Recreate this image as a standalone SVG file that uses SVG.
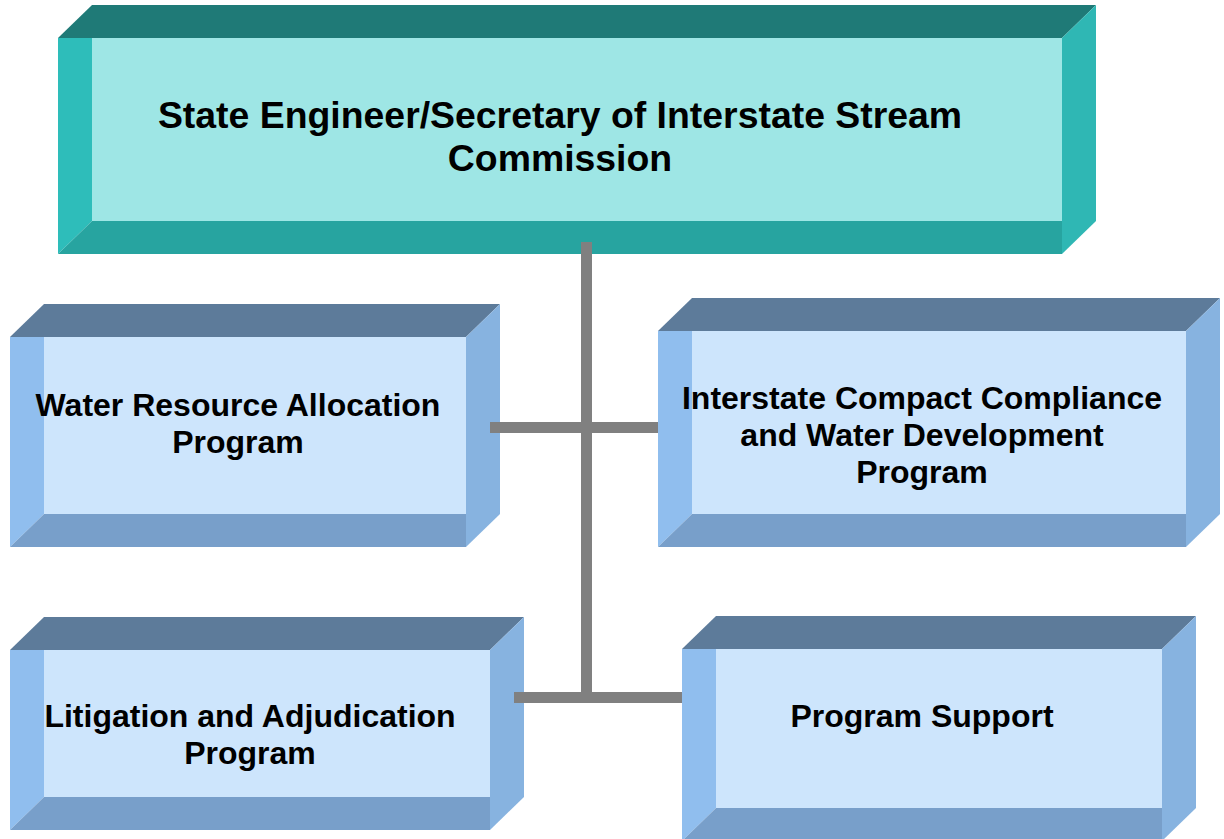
<svg xmlns="http://www.w3.org/2000/svg" width="1224" height="839" viewBox="0 0 1224 839">
<style>
.t-top{fill:#1F7A77}.t-left{fill:#2EBDBA}.t-face{fill:#9EE6E5}.t-bot{fill:#27A4A0}.t-right{fill:#2FB7B4}
.b-top{fill:#5D7B9A}.b-left{fill:#90BEEE}.b-face{fill:#CDE5FC}.b-bot{fill:#789FCA}.b-right{fill:#87B3E0}
.lbl{font-family:"Liberation Sans",Arial,sans-serif;font-weight:bold;fill:#000;text-anchor:middle}
.big{font-size:37.4px}.med{font-size:32px}
.conn{stroke:#808080;stroke-width:11;fill:none}
</style>
<rect width="1224" height="839" fill="#fff"/>
<g id="node-top">
<polygon class="t-top" points="58,38 92,5 1096,5 1062,38"/>
<polygon class="t-right" points="1062,38 1096,5 1096,221 1062,254"/>
<polygon class="t-left" points="58,38 92,38 92,221 58,254"/>
<polygon class="t-bot" points="58,254 92,221 1062,221 1062,254"/>
<rect class="t-face" x="92" y="38" width="970" height="183"/>
<text class="lbl big" x="560" y="128">State Engineer/Secretary of Interstate Stream</text>
<text class="lbl big" x="560" y="171">Commission</text>
</g>
<g id="node-wra">
<polygon class="b-top" points="10,337 44,304 500,304 466,337"/>
<polygon class="b-right" points="466,337 500,304 500,514 466,547"/>
<polygon class="b-left" points="10,337 44,337 44,514 10,547"/>
<polygon class="b-bot" points="10,547 44,514 466,514 466,547"/>
<rect class="b-face" x="44" y="337" width="422" height="177"/>
<text class="lbl med" x="238" y="416">Water Resource Allocation</text>
<text class="lbl med" x="238" y="453">Program</text>
</g>
<g id="node-iccwd">
<polygon class="b-top" points="658,331 692,298 1220,298 1186,331"/>
<polygon class="b-right" points="1186,331 1220,298 1220,514 1186,547"/>
<polygon class="b-left" points="658,331 692,331 692,514 658,547"/>
<polygon class="b-bot" points="658,547 692,514 1186,514 1186,547"/>
<rect class="b-face" x="692" y="331" width="494" height="183"/>
<text class="lbl med" x="922" y="409">Interstate Compact Compliance</text>
<text class="lbl med" x="922" y="446">and Water Development</text>
<text class="lbl med" x="922" y="483">Program</text>
</g>
<g id="node-lap">
<polygon class="b-top" points="10,650 44,617 524,617 490,650"/>
<polygon class="b-right" points="490,650 524,617 524,797 490,830"/>
<polygon class="b-left" points="10,650 44,650 44,797 10,830"/>
<polygon class="b-bot" points="10,830 44,797 490,797 490,830"/>
<rect class="b-face" x="44" y="650" width="446" height="147"/>
<text class="lbl med" x="250" y="727">Litigation and Adjudication</text>
<text class="lbl med" x="250" y="764">Program</text>
</g>
<g id="node-ps">
<polygon class="b-top" points="682,649 716,616 1196,616 1162,649"/>
<polygon class="b-right" points="1162,649 1196,616 1196,808 1162,841"/>
<polygon class="b-left" points="682,649 716,649 716,808 682,841"/>
<polygon class="b-bot" points="682,841 716,808 1162,808 1162,841"/>
<rect class="b-face" x="716" y="649" width="446" height="159"/>
<text class="lbl med" x="922" y="727">Program Support</text>
</g>
<g id="connectors">
<line class="conn" x1="586.5" y1="242" x2="586.5" y2="703"/>
<line class="conn" x1="490" y1="427.5" x2="658" y2="427.5"/>
<line class="conn" x1="514" y1="697.5" x2="682" y2="697.5"/>
</g>
</svg>
